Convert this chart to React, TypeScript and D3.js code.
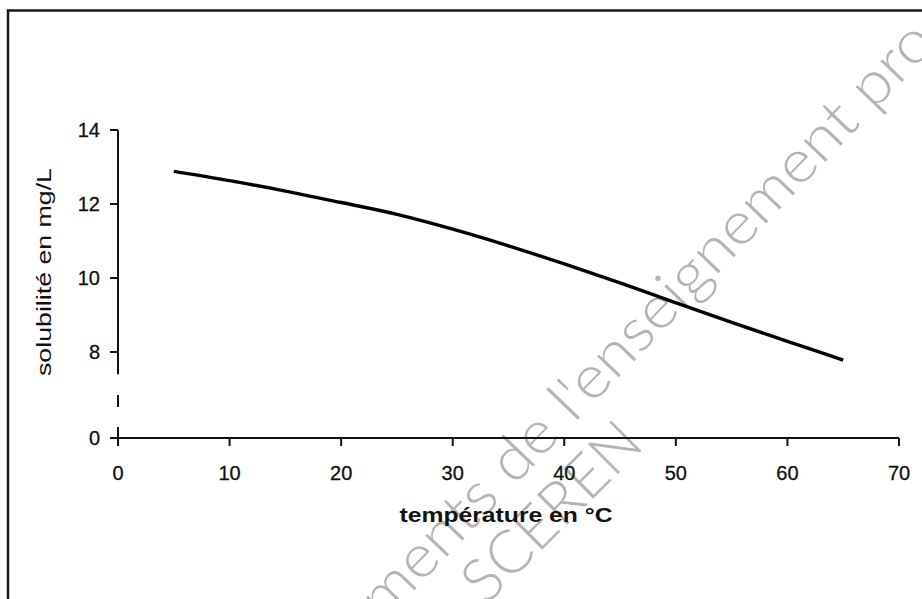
import React from "react";
import * as d3 from "d3";

const temperatures = [5, 10, 15, 20, 25, 30, 35, 40, 45, 50, 55, 60, 65];
const solubility = [12.88, 12.63, 12.35, 12.04, 11.72, 11.32, 10.87, 10.38, 9.87, 9.33, 8.8, 8.29, 7.78];
const xTicks = [0, 10, 20, 30, 40, 50, 60, 70];
const yTicks = [0, 8, 10, 12, 14];
const xTitle = "température en °C";
const yTitle = "solubilité en mg/L";
const watermark1 = "ments de l'enseignement pro";
const watermark2 = "SCEREN";

const W = 922;
const H = 599;

export default function App() {
  const x = d3.scaleLinear().domain([0, 70]).range([118, 899]);
  // broken axis: 0 sits below the gap, the 8..14 band above it
  const y = d3.scaleLinear().domain([0, 7.4, 14]).range([438, 374.2, 130]);

  const pts = temperatures.map((t, i) => [t, solubility[i]] as [number, number]);
  const line = d3
    .line<[number, number]>()
    .x((d) => x(d[0]))
    .y((d) => y(d[1]))
    .curve(d3.curveMonotoneX);

  const x0 = x(0);
  const yAxisTop = y(14);
  const yBreakTop = y(7.4);
  const fontTick = "'Liberation Sans', Arial, sans-serif";

  return (
    <svg
      width={W}
      height={H}
      viewBox={`0 0 ${W} ${H}`}
      style={{ position: "absolute", left: 0, top: 0, background: "#fff" }}
    >
      <rect x={0} y={0} width={W} height={H} fill="#fff" />

      {/* watermark */}
      <g fontFamily="Lato, 'DejaVu Sans', sans-serif" fontWeight={300} fontSize={60} fill="#b4b4b4">
        <text
          transform="translate(384,622) rotate(-46.2)"
          textLength={800}
          lengthAdjust="spacingAndGlyphs"
        >
          {watermark1}
        </text>
        <text
          transform="translate(486,606) rotate(-45)"
          textLength={226}
          lengthAdjust="spacingAndGlyphs"
        >
          {watermark2}
        </text>
      </g>

      {/* frame */}
      <rect x={8} y={10.5} width={1000} height={1000} fill="none" stroke="#1a1a1a" strokeWidth={2.5} />

      {/* y axis (broken) */}
      <g stroke="#111" strokeWidth={2} fill="none">
        <line x1={x0} x2={x0} y1={yAxisTop} y2={yBreakTop} />
        <line x1={x0} x2={x0} y1={395} y2={407} />
        <line x1={x0} x2={x0} y1={427} y2={y(0)} />
        {yTicks.map((t) => (
          <line key={"yt" + t} x1={x0 - 8} x2={x0} y1={y(t)} y2={y(t)} />
        ))}
        {/* x axis */}
        <line x1={x0} x2={x(70)} y1={y(0)} y2={y(0)} />
        {xTicks.map((t) => (
          <line key={"xt" + t} x1={x(t)} x2={x(t)} y1={y(0)} y2={y(0) + 8} />
        ))}
      </g>

      {/* tick labels */}
      <g fontFamily={fontTick} fontSize={20} fill="#111" stroke="#111" strokeWidth={0.3}>
        {yTicks.map((t) => (
          <text key={"yl" + t} x={100} y={y(t) + 7} textAnchor="end">
            {t}
          </text>
        ))}
        {xTicks.map((t) => (
          <text key={"xl" + t} x={x(t)} y={480} textAnchor="middle">
            {t}
          </text>
        ))}
      </g>

      {/* axis titles */}
      <text
        x={506}
        y={522}
        textAnchor="middle"
        fontFamily={fontTick}
        fontWeight="bold"
        fontSize={21}
        fill="#111"
        textLength={213}
        lengthAdjust="spacingAndGlyphs"
      >
        {xTitle}
      </text>
      <text
        transform="translate(51,272) rotate(-90)"
        textAnchor="middle"
        fontFamily={fontTick}
        fontSize={21}
        fill="#111"
        textLength={208}
        lengthAdjust="spacingAndGlyphs"
      >
        {yTitle}
      </text>

      {/* data line */}
      <path d={line(pts) || ""} fill="none" stroke="#000" strokeWidth={3.4} />
    </svg>
  );
}
